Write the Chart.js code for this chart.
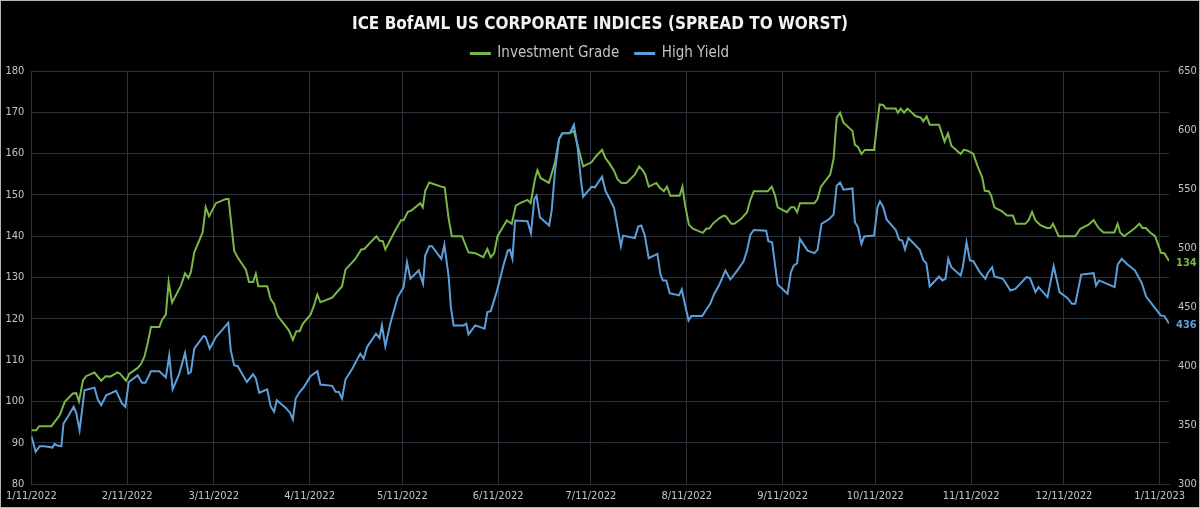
<!DOCTYPE html>
<html>
<head>
<meta charset="utf-8">
<title>ICE BofAML US Corporate Indices</title>
<script src="https://cdn.jsdelivr.net/npm/chart.js@4.4.1/dist/chart.umd.min.js"></script>
<style>
  html, body { margin: 0; padding: 0; background: #000; }
  #wrap { position: relative; width: 1200px; height: 508px; }
  #frame { position: absolute; left: 0; top: 0; right: 0; bottom: 0; border: 1px solid #b5b5b5; box-sizing: border-box; pointer-events: none; }
</style>
</head>
<body>
<div id="wrap">
  <canvas id="spreadChart" width="1200" height="508"></canvas>
  <div id="frame"></div>
</div>
<script>
// x values are days since 1/11/2022
const tickDays = [0, 31, 59, 90, 120, 151, 181, 212, 243, 273, 304, 334, 365];
const tickLabels = ['1/11/2022', '2/11/2022', '3/11/2022', '4/11/2022', '5/11/2022', '6/11/2022',
  '7/11/2022', '8/11/2022', '9/11/2022', '10/11/2022', '11/11/2022', '12/11/2022', '1/11/2023'];

// Investment Grade (left axis, bp)
const igDays = [0, 1.6, 2.5, 6.5, 9.2, 10.8, 13.4, 14.5, 15.4, 16.7, 17.7, 20.4, 22.6, 24, 25.5, 27.9, 28.7, 30.6, 31.7, 34.4,
  35.5, 36.6, 37.6, 38.7, 41.4, 42.3, 43.5, 44.4, 45.5, 48.4, 49.7, 50.8, 51.6, 52.7, 55.4, 56.4, 57.5, 59.7, 62.9, 63.8,
  65.6, 66.7, 69.4, 70.4, 71.7, 72.6, 73.4, 76.3, 77.4, 78.5, 79.6, 83.3, 84.6, 85.7, 86.8, 87.8, 90.3, 91.4, 92.5, 93.5,
  97.3, 100.5, 101.6, 104.8, 106.7, 107.7, 109.7, 111.6, 112.7, 113.7, 114.5, 117.7, 119.6, 120.4, 121.8, 122.9, 125.8, 126.6, 127.4, 128.7,
  132.6, 133.7, 135, 136, 139.3, 141.4, 143.6, 146.2, 147.5, 148.6, 149.7, 150.8, 152.2, 153.8, 155.4, 156.7, 158.1, 160.5, 161.5, 162.9,
  163.7, 164.7, 167.4, 169.4, 170.7, 171.8, 174.2, 175.5, 176.9, 178.5, 181.2, 182.6, 184.6, 185.7, 187.1, 188.5, 189.6, 190.9, 192.5, 195.2,
  196.6, 197.9, 198.6, 199.7, 202.2, 203.2, 204.6, 205.6, 206.7, 209.7, 210.6, 211.5, 212.7, 214, 217.2, 218.3, 219.4, 220.4, 222.6, 224,
  224.7, 226.4, 227.4, 229.6, 231.5, 232.6, 233.7, 238.2, 239.5, 240.6, 241.4, 244.4, 245.7, 246.8, 247.7, 248.6, 253.3, 254.3, 255.4, 258.4,
  259.5, 260.5, 261.6, 262.7, 265.6, 266.4, 267.4, 268.5, 269.6, 272.6, 273.7, 274.4, 275.5, 276.4, 279.6, 280.3, 281.2, 282.3, 283.4, 286,
  287.7, 288.5, 289.6, 290.6, 293.6, 295.4, 296.5, 297.6, 300.6, 301.6, 302.9, 304.7, 306, 307.6, 308.4, 309.7, 310.5, 311.5, 314, 315.6,
  317.5, 318.5, 321.5, 322.6, 323.7, 324.8, 326.4, 328.5, 329.6, 330.5, 332.3, 337.7, 339.3, 342, 343.6, 345.2, 346.8, 350.3, 351.4, 352.2,
  353.5, 357, 358.4, 359.4, 360.5, 361.9, 363.5, 364.6, 365.4, 366.5, 368];
const igValues = [93, 93, 94, 94, 96.7, 99.9, 101.9, 102, 100, 105.1, 106.1, 107, 105, 106.1, 106, 107, 106.7, 105, 106.7, 108.1,
  109.1, 110.9, 114, 118, 118, 119.8, 121, 128.9, 123.9, 128.1, 131, 129.9, 131.3, 136.1, 140.9, 147, 144.8, 148, 149, 149,
  136.5, 134.9, 131.9, 128.9, 128.9, 130.9, 127.9, 127.9, 124.8, 123.6, 120.8, 117.2, 114.9, 117, 117, 118.8, 121, 123.2, 125.9, 124,
  125.1, 127.9, 131.9, 134.5, 136.8, 136.9, 138.5, 140, 138.9, 138.8, 136.8, 141.4, 143.9, 143.8, 145.9, 146.2, 148, 147, 151, 153,
  152, 151.8, 144.2, 140, 140, 136.1, 135.9, 134.9, 136.9, 134.9, 135.9, 140, 141.8, 143.8, 143, 147.4, 148, 148.8, 148, 153.8,
  156, 154.1, 152.9, 157.9, 163.5, 164.9, 165, 165.5, 161.5, 156.9, 157.9, 159.3, 160.9, 158.9, 157.5, 155.8, 153.8, 152.9, 152.9, 154.9,
  156.9, 155.8, 154.9, 152, 152.9, 151.8, 150.9, 152, 149.8, 149.8, 152, 147.4, 142.8, 141.8, 140.8, 141.8, 141.9, 143, 144.4, 145,
  144.8, 143, 143, 144.2, 145.8, 148.8, 150.9, 150.9, 152, 149.8, 147, 145.8, 147, 147, 145.8, 148, 148, 149, 152, 154.9,
  158.7, 168.7, 169.9, 167.5, 165.5, 162.1, 161.6, 159.9, 160.9, 160.9, 167.9, 171.9, 171.8, 170.9, 170.9, 169.9, 170.9, 169.9, 170.9, 169.1,
  168.7, 167.8, 169, 167, 167, 162.9, 164.9, 161.9, 159.9, 160.9, 160.7, 159.9, 157.1, 154.2, 151, 150.9, 149.8, 147, 146, 145,
  145, 143, 143, 143.9, 145.9, 143.8, 142.7, 142, 142, 143, 140, 140, 141.8, 142.8, 143.9, 142, 140.9, 140.9, 143, 140.9,
  140, 142, 143, 142, 142, 140.9, 140, 137.7, 136, 135.9, 134];

// High Yield (right axis, bp)
const hyDays = [0, 1.4, 2.7, 4.3, 6.8, 7.5, 8.6, 9.7, 10.4, 11.8, 13.7, 14.5, 15.6, 17.2, 20.4, 21.5, 22.6, 24.2, 27.4, 29.3,
  30.4, 31.5, 34.4, 35.8, 36.9, 38.7, 41.4, 43.5, 44.6, 45.7, 47.8, 49.7, 50.8, 51.6, 52.7, 55.7, 56.4, 57.7, 59.7, 61.6,
  63.7, 64.5, 65.6, 66.7, 69.7, 71.7, 72.6, 73.7, 76.3, 77.4, 78.5, 79.4, 82.3, 83.7, 84.6, 85.5, 86.6, 88.2, 90.3, 92.5,
  93.5, 97.3, 98.4, 99.5, 100.5, 101.6, 103.8, 106.4, 107.5, 108.6, 111.5, 112.6, 113.4, 114.5, 116.1, 118.5, 120.4, 121.5, 122.6, 125.3,
  126.7, 127.4, 128.7, 129.6, 132.6, 133.6, 135, 135.7, 136.6, 139.8, 140.7, 141.4, 143.6, 146.6, 147.5, 148.6, 150.5, 152.7, 154.1, 154.8,
  155.6, 156.5, 160.5, 161.6, 162.7, 163.4, 164.5, 167.5, 168.3, 169.4, 170.7, 171.7, 174.2, 175.5, 176.7, 177.8, 178.5, 181.2, 182.3, 184.6,
  185.7, 187.1, 188.5, 189.6, 190.7, 191.4, 195.2, 196.3, 197.3, 198.4, 199.7, 202.5, 203.5, 204.3, 205.4, 206.5, 209.5, 210.4, 211.5, 212.6,
  213.5, 217, 218.3, 219.6, 220.8, 222.4, 224.5, 226.1, 228.5, 230.4, 231.5, 232.6, 233.7, 237.7, 238.4, 239.6, 241.4, 244.6, 245.7, 246.6,
  247.7, 248.6, 251.1, 253.3, 254.3, 255.6, 258.1, 259.5, 260.5, 261.6, 262.7, 265.6, 266.4, 267.4, 268.5, 269.4, 272.6, 273.7, 274.5, 275.5,
  276.7, 279.6, 280.7, 281.7, 282.6, 283.7, 287.4, 288.5, 289.5, 290.6, 293.6, 294.7, 295.7, 296.6, 297.6, 300.6, 301.3, 302.5, 303.6, 304.7,
  306.8, 308.6, 309.4, 310.8, 311.5, 314.3, 316.7, 318.3, 321.9, 323, 324.8, 325.8, 328.7, 330.7, 332.6, 335.2, 336.6, 337.7, 339.6, 343.6,
  344.4, 345.4, 350.4, 351.4, 352.7, 354.3, 357, 359.2, 360.6, 365.3, 366.5, 368];
const hyValues = [340.6, 327.3, 332, 332, 330.9, 334, 332.4, 332, 351.3, 357, 365.4, 360.3, 345.6, 379.5, 381.7, 371.6, 366.8, 375.2, 378.9, 368.2,
  365.4, 386.5, 392.1, 385.7, 385.7, 395.5, 395.5, 390.2, 409, 380.3, 393, 411, 393.5, 394.9, 414.7, 425.4, 424.6, 414.7, 424.6, 430.2,
  436.7, 413.4, 400.5, 400, 386.5, 393, 389.4, 377.3, 380.2, 365.9, 361.2, 371, 364.5, 360.2, 354.7, 372.4, 377.3, 382.3, 391.3, 395.5,
  384.3, 383.2, 378.1, 378, 372.4, 388.5, 397.7, 410.5, 406.2, 416.1, 427.4, 423.7, 434.5, 416.7, 435.9, 458.3, 466.8, 488, 474, 481,
  469.7, 493.6, 501.5, 501.5, 490.8, 502.7, 475.4, 449.9, 434.4, 434.4, 435.9, 426.8, 434.4, 431.6, 445.7, 446.5, 462.6, 485.1, 497.8, 498.6,
  490.8, 523.3, 522.7, 512.5, 541.5, 544.3, 526.1, 519.1, 531.7, 565.5, 592.3, 597.3, 597.3, 604.4, 585.3, 556.9, 543.6, 551.9, 551.4, 560.4,
  548.5, 541.5, 533.9, 517.5, 501.5, 510.5, 508.5, 518.1, 519, 511, 491.3, 495, 477.5, 472.5, 472.5, 461.7, 459.8, 464.9, 451.3, 438.6,
  442.3, 442.3, 447.7, 452.7, 460.6, 468.2, 480.9, 473.3, 481.5, 488.8, 497.8, 511.4, 515.3, 514.7, 505.7, 504.9, 469.1, 461.2, 479.5, 485.1,
  487.1, 507.7, 497.8, 495.6, 498.4, 520.4, 524.6, 528.3, 552.8, 555.6, 549.4, 550.5, 521.8, 517.5, 503.5, 509.7, 510.5, 534.4, 539.5, 535,
  524, 515.3, 507.1, 506.3, 498.7, 508.5, 498.4, 489.9, 487.1, 467.4, 475.8, 472.5, 473.9, 490.8, 483.7, 476.7, 483.7, 504.9, 489.4, 488.8,
  479.5, 473.9, 478.9, 483.7, 475.8, 473.9, 464, 465.4, 475.3, 474.7, 462.6, 466.8, 458.4, 484.6, 462.6, 457.5, 452.7, 452.7, 477.5, 478.7,
  468.2, 472.5, 466.8, 486, 490.8, 486.6, 480.9, 470.2, 458.9, 442.9, 442.3, 436];

const FONT = "'Liberation Sans Narrow', 'DejaVu Sans Condensed', sans-serif";
const igColor = '#7ab648';
const hyColor = '#5c9fdb';
const gridColor = '#2b323d';
const textColor = '#c4c4c4';

// last value printed next to the end of each line
const endLabels = {
  id: 'endLabels',
  afterDatasetsDraw(chart) {
    const c = chart.ctx;
    chart.data.datasets.forEach((ds, i) => {
      const pts = chart.getDatasetMeta(i).data;
      const last = pts[pts.length - 1];
      const val = ds.data[ds.data.length - 1].y;
      c.save();
      c.fillStyle = ds.borderColor;
      c.font = 'bold 11px ' + FONT;
      c.textBaseline = 'middle';
      c.fillText(Math.round(val), last.x + 7, last.y + 2);
      c.restore();
    });
  }
};

const ctx = document.getElementById('spreadChart').getContext('2d');
new Chart(ctx, {
  type: 'line',
  data: {
    datasets: [
      {
        label: 'Investment Grade',
        data: igDays.map((d, i) => ({ x: d, y: igValues[i] })),
        yAxisID: 'y',
        borderColor: igColor,
        backgroundColor: igColor,
        borderWidth: 2,
        pointRadius: 0,
        order: 1
      },
      {
        label: 'High Yield',
        data: hyDays.map((d, i) => ({ x: d, y: hyValues[i] })),
        yAxisID: 'y1',
        borderColor: hyColor,
        backgroundColor: hyColor,
        borderWidth: 2,
        pointRadius: 0,
        order: 0
      }
    ]
  },
  options: {
    responsive: false,
    animation: false,
    layout: { padding: 0 },
    plugins: {
      title: {
        display: true,
        text: 'ICE BofAML US CORPORATE INDICES (SPREAD TO WORST)',
        color: '#f2f2f2',
        font: { family: FONT, size: 17, weight: 'bold', lineHeight: 1.2 },
        padding: { top: 7.8, bottom: -4.7 }
      },
      legend: {
        labels: {
          color: textColor,
          font: { family: FONT, size: 15 },
          boxWidth: 19,
          boxHeight: 1,
          padding: 16,
          sort: (a, b) => a.datasetIndex - b.datasetIndex
        }
      },
      tooltip: { enabled: false }
    },
    scales: {
      x: {
        type: 'linear',
        min: 0,
        max: 368,
        afterBuildTicks: s => { s.ticks = tickDays.map(v => ({ value: v })); },
        afterFit: s => { s.height = 24; },
        ticks: {
          color: textColor,
          font: { family: FONT, size: 11 },
          padding: 6,
          maxRotation: 0,
          autoSkip: false,
          callback: v => tickLabels[tickDays.indexOf(v)]
        },
        grid: { color: gridColor, drawTicks: false },
        border: { color: gridColor }
      },
      y: {
        position: 'left',
        min: 80,
        max: 180,
        afterFit: s => { s.width = 28; s.paddingTop = 71; },
        ticks: { stepSize: 10, color: textColor, font: { family: FONT, size: 11 }, padding: 7 },
        grid: { color: gridColor, drawTicks: false },
        border: { color: gridColor }
      },
      y1: {
        position: 'right',
        min: 300,
        max: 650,
        afterFit: s => { s.width = 31; },
        ticks: { stepSize: 50, color: textColor, font: { family: FONT, size: 11 }, padding: 9 },
        grid: { display: false, drawTicks: false },
        border: { display: false }
      }
    }
  },
  plugins: [endLabels]
});
</script>
</body>
</html>
